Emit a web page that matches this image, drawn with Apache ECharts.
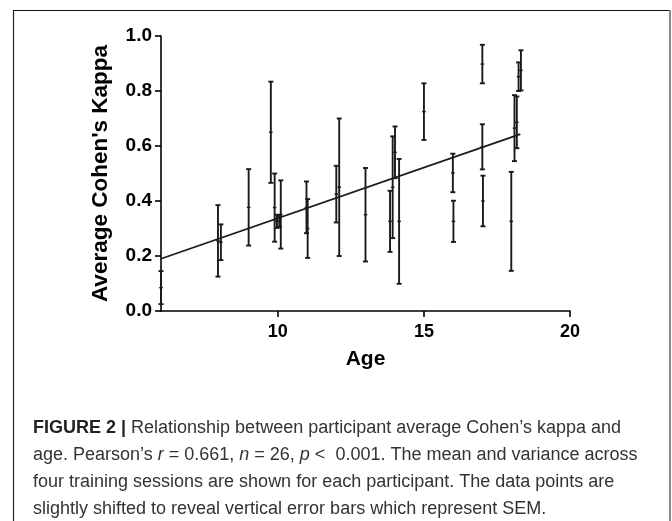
<!DOCTYPE html>
<html>
<head>
<meta charset="utf-8">
<script src="https://cdn.jsdelivr.net/npm/echarts/dist/echarts.min.js"></script>
<style>html,body{margin:0;padding:0;background:#fff;}#c{width:672px;height:521px;}</style>
</head>
<body>
<div id="c"></div>
<script>
// Participant data (age, mean kappa, SEM)
const ages  = [6.0, 7.95, 8.05, 9.0, 9.76, 9.89, 9.97, 10.05, 10.1, 10.98, 11.02, 12.0, 12.1, 13.0, 13.84, 13.93, 14.01, 14.15, 15.0, 15.99, 16.01, 17.0, 17.0, 17.02, 17.99, 18.1, 18.18, 18.24, 18.32];
const means = [0.085, 0.255, 0.25, 0.377, 0.65, 0.376, 0.326, 0.326, 0.351, 0.377, 0.30, 0.425, 0.45, 0.35, 0.326, 0.45, 0.577, 0.326, 0.725, 0.502, 0.326, 0.898, 0.597, 0.40, 0.326, 0.665, 0.686, 0.852, 0.875];
const sems  = [0.06, 0.13, 0.065, 0.139, 0.184, 0.124, 0.024, 0.02, 0.124, 0.094, 0.107, 0.103, 0.25, 0.17, 0.111, 0.185, 0.094, 0.227, 0.103, 0.07, 0.075, 0.07, 0.082, 0.092, 0.18, 0.12, 0.094, 0.052, 0.073];
// Regression line end points
const regX = [6, 18.3];
const regY = [0.19, 0.643];
// Tick labels
const xTicks = [10, 15, 20];
const yTicks = [0, 0.2, 0.4, 0.6, 0.8, 1.0];

const errData = ages.map((a, i) => [a, means[i], sems[i]]);
const regData = regX.map((x, i) => [x, regY[i]]);

const ink = '#1a1a1a';
const capFont = '18px "Liberation Sans", Arial, sans-serif';
const chart = echarts.init(document.getElementById('c'));
chart.setOption({
  animation: false,
  backgroundColor: '#fff',
  grid: { left: 161, right: 102, top: 36, bottom: 210 },
  xAxis: {
    type: 'value', min: 6, max: 20,
    name: 'Age', nameLocation: 'middle', nameGap: 38,
    nameTextStyle: { fontFamily: 'Liberation Sans, Arial', fontWeight: 'bold', fontSize: 21, color: '#000' },
    splitLine: { show: false },
    axisLine: { show: true, onZero: false, lineStyle: { color: '#000', width: 1.6 } },
    axisTick: { show: true, length: 6, customValues: xTicks, lineStyle: { color: '#000', width: 1.6 } },
    axisLabel: { customValues: xTicks, margin: 12, fontFamily: 'Liberation Sans, Arial', fontWeight: 'bold', fontSize: 18, color: '#000' }
  },
  yAxis: {
    type: 'value', min: 0, max: 1, interval: 0.2,
    name: "Average Cohen's Kappa", nameLocation: 'middle', nameGap: 49, nameRotate: 90,
    nameTextStyle: { fontFamily: 'Liberation Sans, Arial', fontWeight: 'bold', fontSize: 22.5, color: '#000' },
    splitLine: { show: false },
    axisLine: { show: true, lineStyle: { color: '#000', width: 1.6 } },
    axisTick: { show: true, length: 6, lineStyle: { color: '#000', width: 1.6 } },
    axisLabel: { margin: 9, fontFamily: 'Liberation Sans, Arial', fontWeight: 'bold', fontSize: 19, color: '#000',
      formatter: v => v.toFixed(1) }
  },
  series: [
    {
      type: 'line', data: regData, showSymbol: false, symbol: 'none',
      lineStyle: { color: ink, width: 1.8 }, z: 3
    },
    {
      type: 'custom', data: errData, clip: false, z: 4,
      renderItem: (params, api) => {
        const x = api.value(0), m = api.value(1), s = api.value(2);
        const t = api.coord([x, m + s]);
        const b = api.coord([x, m - s]);
        const c = api.coord([x, m]);
        const st = { stroke: ink, lineWidth: 1.9 };
        const cw = 2.5;
        return {
          type: 'group',
          children: [
            { type: 'line', shape: { x1: t[0], y1: t[1], x2: b[0], y2: b[1] }, style: st },
            { type: 'line', shape: { x1: t[0] - cw, y1: t[1], x2: t[0] + cw, y2: t[1] }, style: st },
            { type: 'line', shape: { x1: b[0] - cw, y1: b[1], x2: b[0] + cw, y2: b[1] }, style: st },
            { type: 'line', shape: { x1: c[0] - 1.8, y1: c[1], x2: c[0] + 1.8, y2: c[1] }, style: { stroke: ink, lineWidth: 1.4 } }
          ]
        };
      }
    }
  ],
  graphic: [
    { type: 'line', shape: { x1: 13, y1: 10.5, x2: 670, y2: 10.5 }, style: { stroke: '#111', lineWidth: 1.2 } },
    { type: 'line', shape: { x1: 13.5, y1: 10, x2: 13.5, y2: 521 }, style: { stroke: '#222', lineWidth: 1.2 } },
    { type: 'line', shape: { x1: 670, y1: 10, x2: 670, y2: 521 }, style: { stroke: '#888', lineWidth: 2 } },
    { type: 'text', x: 33, y: 428, style: { text: '{b|FIGURE 2 |} Relationship between participant average Cohen’s kappa and', verticalAlign: 'middle',
        font: capFont, fill: '#333', rich: { b: { fontWeight: 'bold', fontSize: 18, fontFamily: 'Liberation Sans, Arial', fill: '#222' } } } },
    { type: 'text', x: 33, y: 455, style: { text: 'age. Pearson’s {i|r} = 0.661, {i|n} = 26, {i|p} <  0.001. The mean and variance across', verticalAlign: 'middle',
        font: capFont, fill: '#333', rich: { i: { fontStyle: 'italic', fontSize: 18, fontFamily: 'Liberation Sans, Arial', fill: '#333' } } } },
    { type: 'text', x: 33, y: 482, style: { text: 'four training sessions are shown for each participant. The data points are', verticalAlign: 'middle',
        font: capFont, fill: '#333' } },
    { type: 'text', x: 33, y: 509, style: { text: 'slightly shifted to reveal vertical error bars which represent SEM.', verticalAlign: 'middle',
        font: capFont, fill: '#333' } }
  ]
});
</script>
</body>
</html>
